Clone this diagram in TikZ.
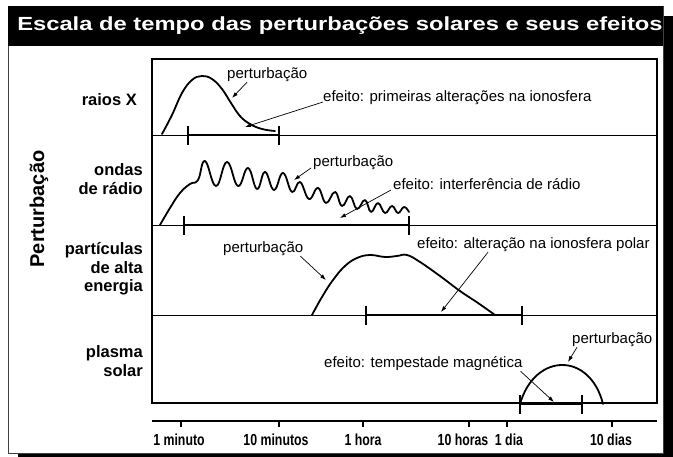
\documentclass[tikz,border=0pt]{standalone}
\usepackage{fontspec}
\setmainfont{Liberation Sans}
\usetikzlibrary{positioning,arrows.meta}
\newcommand{\tam}[2]{\fontsize{#1}{#2}\selectfont}

\begin{document}
\begin{tikzpicture}[x=1pt, y=-1pt, >={Latex[length=6pt,width=4pt]},
    txt/.style={font=\tam{15}{17}, inner sep=0pt, anchor=west},
    lbl/.style={font=\tam{16.5}{18.5}\bfseries, align=right, inner sep=0pt, anchor=east},
    eixo/.style={font=\tam{16}{16}\bfseries, inner sep=0pt},
    curva/.style={line width=1.8pt, line cap=round, line join=round},
    barra/.style={line width=2.8pt},
    seta/.style={->, line width=0.7pt}]
\useasboundingbox (0,0) rectangle (673,457);
% moldura e titulo
\fill[black] (18,16) rectangle (683,467);
\draw[fill=white, line width=0.8pt, draw=black!75] (8,6) rectangle (663,453);
\fill[black] (8,6) rectangle (663,46);
\node[text=white, font=\tam{19}{19}\bfseries, inner sep=0pt] (titulo) at (340,26)
    {\scalebox{1.25}[1]{Escala de tempo das perturbações solares e seus efeitos}};

\node[lbl, rotate=90, anchor=center, font=\tam{20}{20}\bfseries] (pert) at (39,209) {Perturbação};
\node[lbl] (raiosX) at (137,100) {raios X};
\node[lbl] (ondas) at (143,179) {ondas\\de rádio};
\node[lbl] (particulas) at (143,269) {partículas\\de alta\\energia};
\node[lbl] (plasma) at (143,361) {plasma\\solar};

% quadro
\draw[line width=1.4pt] (152,59) rectangle (657,403);
\foreach \y in {135,225,315}
{
    \draw[line width=0.8pt] (152,\y)--(657,\y);
}

% efeitos
\draw[barra] (188,135)--(279,135);
\draw[barra] (184,225)--(409,225);
\draw[barra] (366,315)--(522,315);
\draw[barra] (520,404)--(582,404);
\foreach \x/\y in {188/135,279/135,184/225,409/225,366/315,522/315,520/404,582/404}
{
    \draw[line width=1.4pt] (\x,\y-9)--(\x,\y+10);
}

% perturbacoes
\draw[curva] plot[smooth, tension=0.7] coordinates {(162,134) (172,115) (182,93) (192,80) (202,76) (212,79) (222,89) (231,103) (240,116) (250,124) (262,129) (275,131)};
\draw[curva] plot[smooth, tension=0.75] coordinates {(160,225) (170,208) (180,193) (190,184) (198,180) (205,161) (216,186) (227,162) (238,186) (248,168) (257,189) (265,172) (274,190) (283,173) (292,192) (300,182) (309,199) (318,188) (326,203) (335,192) (342,206) (350,196) (357,209) (365,200) (371,212) (378,203) (385,213) (392,206) (398,213) (404,207) (409,212)};
\draw[curva] plot[smooth, tension=0.7] coordinates {(312,315) (322,297) (333,280) (345,266) (357,258) (370,255) (385,257) (397,256) (407,255) (420,262) (440,276) (460,291) (478,303) (495,315)};
\draw[curva] (520,404) .. controls (535,352) and (590,352) .. (603,404);

% textos e setas
\node[txt] (pX) at (227,75) {perturbação};
\node[txt] (eX) at (323,98) {efeito: primeiras alterações na ionosfera};
\node[txt] (pR) at (313,163) {perturbação};
\node[txt] (eR) at (393,184) {efeito: interferência de rádio};
\node[txt] (pP) at (223,249) {perturbação};
\node[txt] (eP) at (417,245) {efeito: alteração na ionosfera polar};
\node[txt] (pS) at (572,340) {perturbação};
\node[txt] (eS) at (324,364) {efeito: tempestade magnética};

\coordinate (fpX) at (232,98);
\coordinate (feX) at (245,127);
\coordinate (fpR) at (294,180);
\coordinate (feR) at (340,218);
\coordinate (fpP) at (326,280);
\coordinate (feP) at (441,312);
\coordinate (fpS) at (568,362);
\coordinate (feS) at (554,402);
\draw[seta] ([xshift=20pt]pX.south west)--(fpX);
\draw[seta] ([yshift=-4pt]eX.west)--(feX);
\draw[seta] ([shift={(-2pt,-5pt)}]pR.west)--(fpR);
\draw[seta] ([shift={(-2pt,-6pt)}]eR.west)--(feR);
\draw[seta] ([xshift=-3pt]pP.south east)--(fpP);
\draw[seta] ([xshift=71pt]eP.south west)--(feP);
\draw[seta] ([xshift=5pt]pS.south west)--(fpS);
\draw[seta] ([xshift=-2pt]eS.south east)--(feS);

% eixo do tempo
\draw[barra] (152,421)--(657,421);
\foreach \x/\lx/\t in {181/179/1 minuto, 279/276/10 minutos, 363/363/1 hora, 469/463/10 horas, 507/509/1 dia, 612/611/10 dias}
{
    \draw[line width=1.4pt] (\x,421)--(\x,427);
    \node[eixo] (t\x) at (\lx,440) {\scalebox{0.77}[1]{\t}};
}
\end{tikzpicture}
\end{document}
